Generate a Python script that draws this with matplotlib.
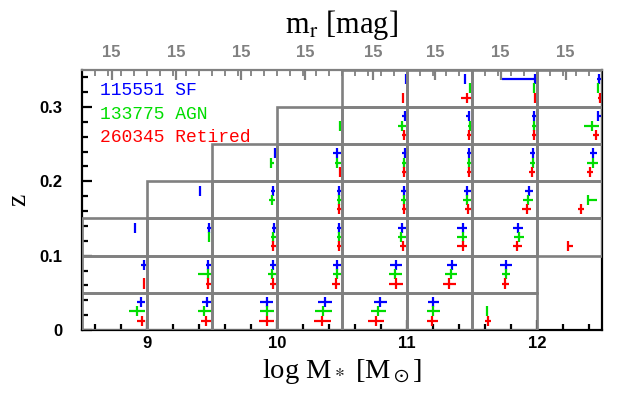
import matplotlib
matplotlib.use("Agg")
import matplotlib.pyplot as plt
import numpy as np

plt.rcParams['mathtext.fontset'] = 'stix'

# ---- grid of (mass, z) cells: row z-bin low edge and mass range covered
row_z = [0.0, 0.05, 0.10, 0.15, 0.20, 0.25, 0.30]
row_mlo = [8.5, 8.5, 8.5, 9.0, 9.5, 10.0, 10.5]
row_mhi = [12.0, 12.0, 12.5, 12.5, 12.5, 12.5, 12.5]
dz = 0.05
dm = 0.5

# ---- per-class marks: z-bin, median mass, mass low, mass high
sf_zbin = [0.0]*6 + [0.05]*7 + [0.10]*7 + [0.15]*6 + [0.20]*6 + [0.25]*4 + [0.30]*4
sf_m = [8.954, 9.462, 9.923, 10.369, 10.792, 11.200,
        8.977, 9.469, 9.969, 10.462, 10.915, 11.346, 11.762,
        8.908, 9.477, 9.977, 10.477, 10.962, 11.431, 11.854,
        9.408, 9.969, 10.477, 10.977, 11.462, 11.938,
        9.985, 10.462, 10.985, 11.477, 11.969, 12.431,
        10.985, 11.477, 11.977, 12.469,
        10.992, 11.446, 11.985, 12.477]
sf_mlo = [8.923, 9.423, 9.869, 10.315, 10.746, 11.162,
          8.954, 9.454, 9.946, 10.431, 10.869, 11.308, 11.715,
          8.908, 9.462, 9.962, 10.462, 10.931, 11.385, 11.815,
          9.408, 9.954, 10.462, 10.954, 11.438, 11.908,
          9.985, 10.431, 10.962, 11.462, 11.946, 12.408,
          10.962, 11.454, 11.962, 12.469,
          10.992, 11.446, 11.731, 12.462]
sf_mhi = [8.985, 9.500, 9.969, 10.423, 10.846, 11.246,
          9.000, 9.492, 9.992, 10.492, 10.962, 11.385, 11.808,
          8.908, 9.500, 10.000, 10.500, 10.992, 11.462, 11.892,
          9.408, 9.985, 10.500, 11.000, 11.492, 11.969,
          9.985, 10.492, 11.000, 11.500, 11.985, 12.462,
          11.000, 11.485, 12.000, 12.500,
          10.992, 11.446, 12.000, 12.500]

agn_zbin = [0.0]*7 + [0.05]*6 + [0.10]*6 + [0.15]*6 + [0.20]*6 + [0.25]*5 + [0.30]*3
agn_m = [8.923, 9.438, 9.923, 10.354, 10.777, 11.200, 11.615,
         9.470, 9.962, 10.460, 10.908, 11.338, 11.762,
         9.477, 9.969, 10.477, 10.954, 11.431, 11.862,
         9.962, 10.477, 10.977, 11.462, 11.931, 12.392,
         9.954, 10.462, 10.977, 11.477, 11.969, 12.431,
         10.485, 10.962, 11.485, 11.977, 12.423,
         11.485, 11.977, 12.469]
agn_mlo = [8.862, 9.392, 9.869, 10.292, 10.723, 11.154, 11.615,
           9.392, 9.930, 10.431, 10.862, 11.292, 11.731,
           9.477, 9.954, 10.462, 10.931, 11.385, 11.823,
           9.938, 10.462, 10.954, 11.431, 11.892, 12.392,
           9.954, 10.446, 10.962, 11.462, 11.946, 12.385,
           10.485, 10.931, 11.470, 11.962, 12.362,
           11.485, 11.977, 12.462]
agn_mhi = [8.985, 9.500, 9.977, 10.423, 10.838, 11.254, 11.615,
           9.500, 10.000, 10.492, 10.962, 11.385, 11.792,
           9.477, 9.992, 10.500, 10.992, 11.462, 11.900,
           9.985, 10.500, 11.000, 11.492, 11.969, 12.462,
           9.977, 10.492, 11.000, 11.500, 11.985, 12.469,
           10.485, 10.992, 11.500, 12.000, 12.477,
           11.485, 11.977, 12.477]

ret_zbin = [0.0]*7 + [0.05]*7 + [0.10]*6 + [0.15]*5 + [0.20]*5 + [0.25]*4 + [0.30]*4
ret_m = [8.962, 9.454, 9.923, 10.346, 10.762, 11.192, 11.623,
         8.977, 9.469, 9.969, 10.454, 10.915, 11.323, 11.754,
         9.969, 10.477, 10.969, 11.431, 11.846, 12.238,
         10.477, 10.977, 11.469, 11.923, 12.338,
         10.485, 10.977, 11.477, 11.962, 12.408,
         10.977, 11.477, 11.977, 12.454,
         10.969, 11.462, 11.985, 12.485]
ret_mlo = [8.923, 9.415, 9.862, 10.285, 10.700, 11.154, 11.600,
           8.977, 9.454, 9.946, 10.423, 10.862, 11.277, 11.731,
           9.954, 10.462, 10.946, 11.385, 11.815, 12.238,
           10.462, 10.962, 11.446, 11.885, 12.315,
           10.485, 10.962, 11.462, 11.938, 12.385,
           10.962, 11.462, 11.962, 12.431,
           10.969, 11.415, 11.985, 12.469]
ret_mhi = [8.985, 9.492, 9.977, 10.415, 10.823, 11.238, 11.646,
           8.977, 9.492, 9.992, 10.485, 10.969, 11.377, 11.785,
           9.992, 10.500, 10.992, 11.462, 11.885, 12.277,
           10.500, 11.000, 11.492, 11.954, 12.362,
           10.485, 11.000, 11.500, 11.985, 12.431,
           11.000, 11.500, 12.000, 12.477,
           10.969, 11.500, 11.985, 12.500]

legend_labels = ["115551 SF", "133775 AGN", "260345 Retired"]
class_colors = ["#0000ff", "#00dd00", "#ff0000"]
class_offsets = [0.0375, 0.025, 0.0125]

top_tick_pos = [8.73, 9.225, 9.725, 10.22, 10.74, 11.22, 11.72, 12.22]
top_tick_labels = ["15"] * 8

fig = plt.figure(figsize=(6.29, 3.99), dpi=100)
ax = fig.add_axes([0.130, 0.173, 0.827, 0.652])
ax.set_xlim(8.5, 12.5)
ax.set_ylim(0, 0.35)

gray = "#808080"
# cell boxes
for zlo, mlo, mhi in zip(row_z, row_mlo, row_mhi):
    for m0 in np.arange(mlo, mhi - 1e-6, dm):
        r = plt.Rectangle((m0, zlo), dm, dz, fill=False, ec=gray, lw=1.9, zorder=3)
        ax.add_patch(r)

sets = [(sf_zbin, sf_m, sf_mlo, sf_mhi), (agn_zbin, agn_m, agn_mlo, agn_mhi),
        (ret_zbin, ret_m, ret_mlo, ret_mhi)]
for (zb, m, mlo, mhi), col, off, lab in zip(sets, class_colors, class_offsets, legend_labels):
    zb = np.array(zb); m = np.array(m); mlo = np.array(mlo); mhi = np.array(mhi)
    y = zb + off
    xerr = np.vstack([m - mlo, mhi - m])
    ax.errorbar(m, y, xerr=xerr, yerr=0.0068, fmt='none', ecolor=col,
                elinewidth=1.6, capsize=0, zorder=2)

for i, (lab, col) in enumerate(zip(legend_labels, class_colors)):
    ax.text(0.035, 0.92 - i * 0.09, lab, color=col, transform=ax.transAxes,
            fontsize=13, family='Liberation Mono', va='center', ha='left')

# spines
for s in ['bottom', 'left', 'right']:
    ax.spines[s].set_linewidth(1.6)
    ax.spines[s].set_color('black')
ax.spines['top'].set_linewidth(1.6)
ax.spines['top'].set_color(gray)

ax.set_xticks([9, 10, 11, 12])
ax.set_xticklabels(["9", "10", "11", "12"])
ax.set_xticks(np.arange(8.6, 12.45, 0.2), minor=True)
ax.set_yticks([0, 0.1, 0.2, 0.3])
ax.set_yticklabels(["0", "0.1", "0.2", "0.3"])
ax.set_yticks(np.arange(0.02, 0.35, 0.02), minor=True)
ax.tick_params(axis='both', which='major', direction='in', length=7, width=1.6,
               labelsize=12, top=False, right=False)
ax.tick_params(axis='both', which='minor', direction='in', length=4, width=1.6,
               top=False, right=False)
ax.tick_params(axis='x', which='major', pad=4)
ax.tick_params(axis='y', which='major', pad=14)
for t in ax.get_xticklabels() + ax.get_yticklabels():
    t.set_fontweight('bold')
    t.set_family('Liberation Sans')

ax.set_xlabel(r"log M$_*$ [M$_\odot$]", fontsize=20.5, family='Liberation Serif', labelpad=5)
ax.set_ylabel("z", fontsize=20, family='Liberation Serif', labelpad=6)

ax2 = ax.twiny()
ax2.set_xlim(8.5, 12.5)
ax2.set_xticks(top_tick_pos)
ax2.set_xticklabels(top_tick_labels)
ax2.set_xticks(np.arange(8.6, 12.45, 0.1), minor=True)
ax2.tick_params(axis='x', which='major', direction='in', length=7, width=1.6,
                colors=gray, labelsize=12, pad=7)
ax2.tick_params(axis='x', which='minor', direction='in', length=4, width=1.3, colors=gray)
for t in ax2.get_xticklabels():
    t.set_fontweight('bold')
    t.set_family('Liberation Sans')
for s in ax2.spines.values():
    s.set_visible(False)
ax2.set_xlabel(r"m$_\mathrm{r}$ [mag]", fontsize=22, family='Liberation Serif', labelpad=9)

fig.savefig("out.png", dpi=100)
